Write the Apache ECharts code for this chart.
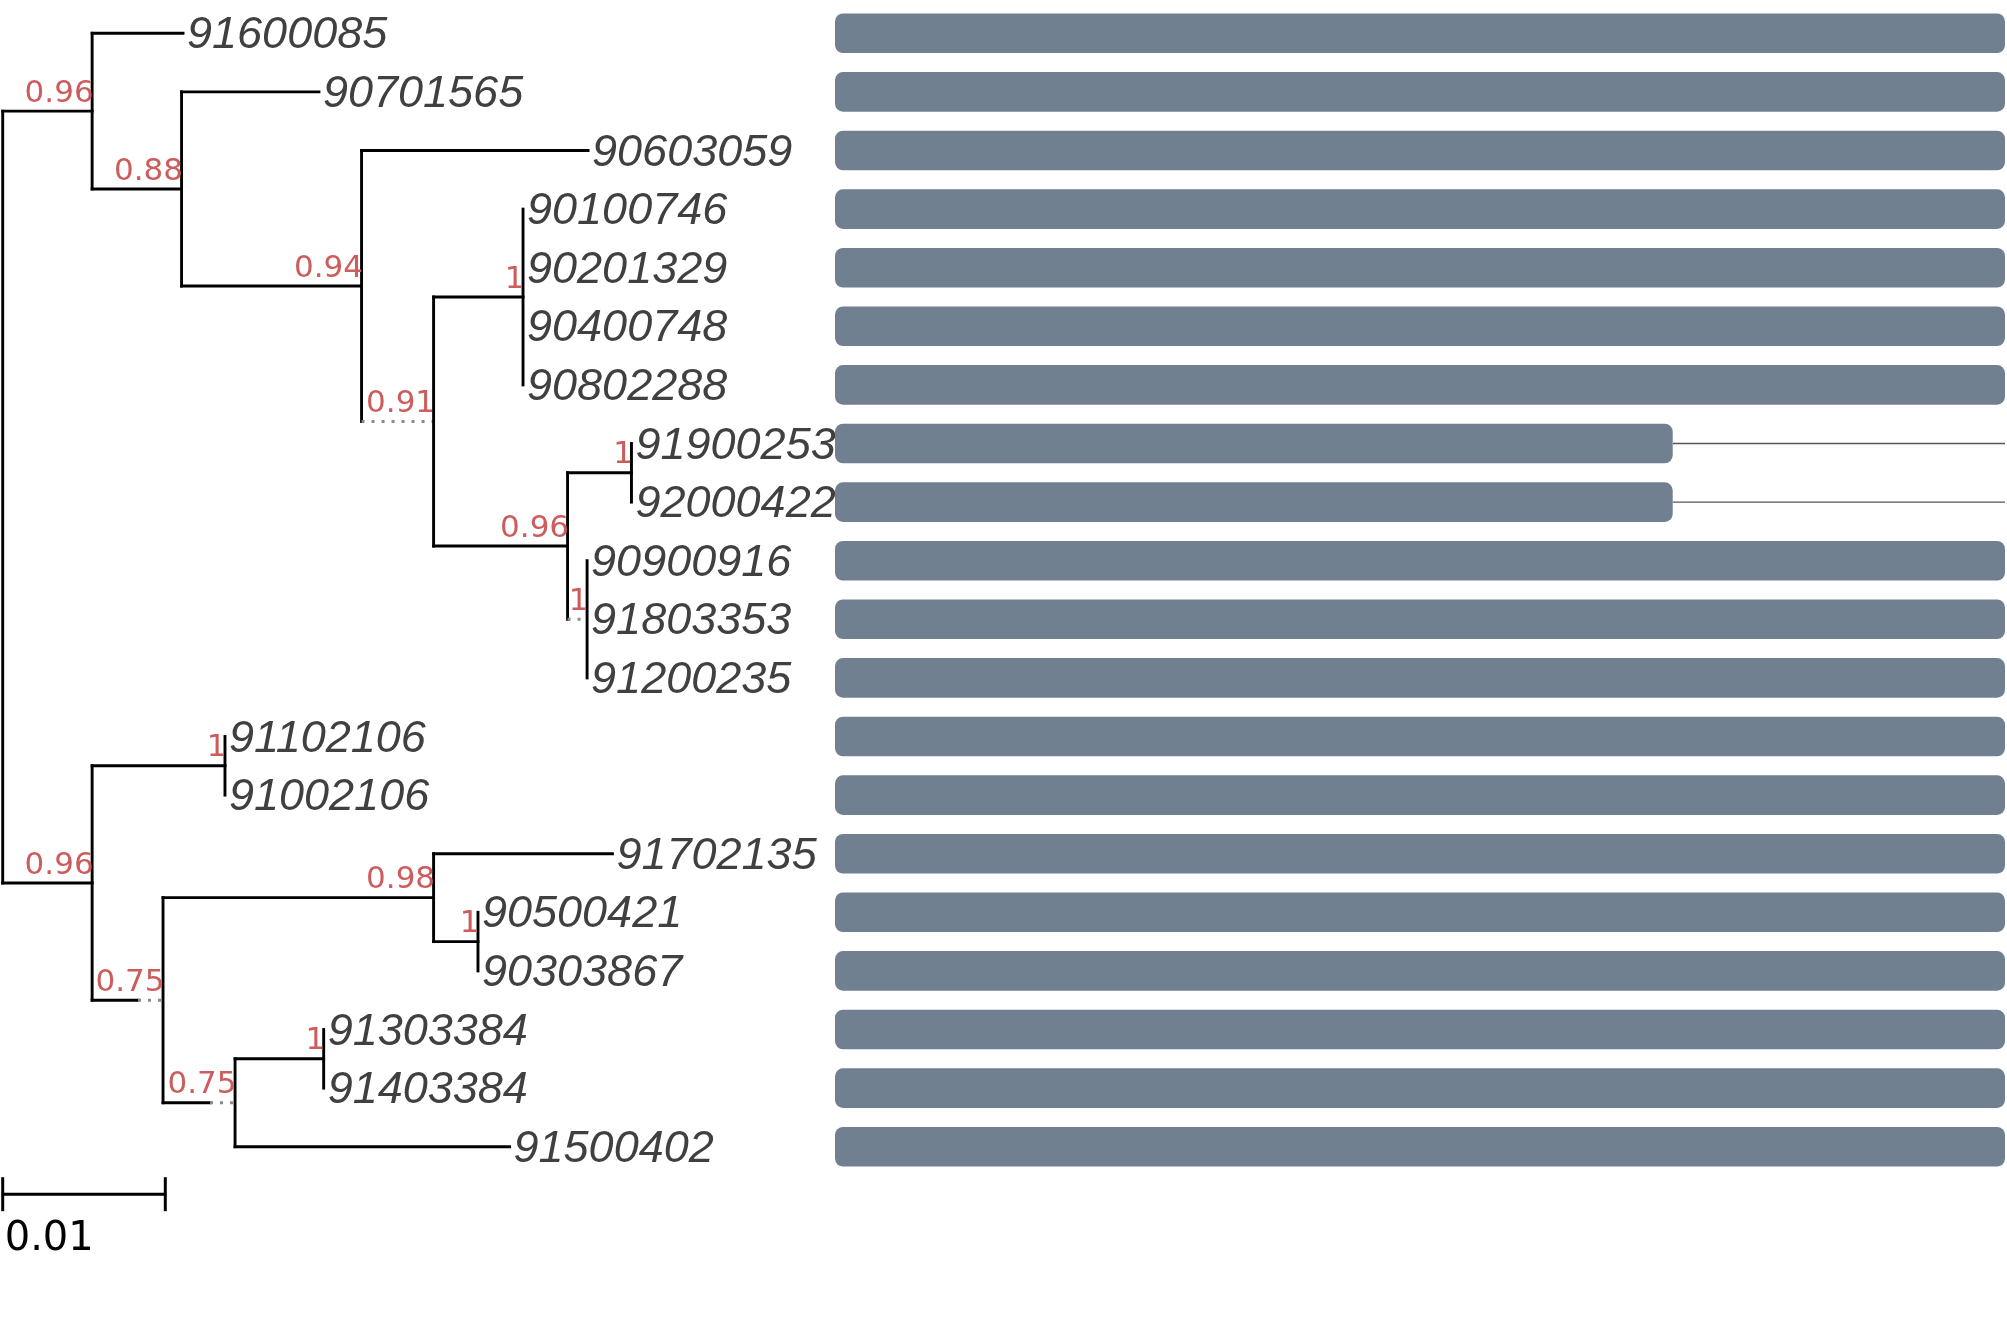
<!DOCTYPE html>
<html><head><meta charset="utf-8">
<script src="https://cdn.jsdelivr.net/npm/echarts@6/dist/echarts.min.js"></script>
<style>html,body{margin:0;padding:0;background:#fff}#c{width:2007px;height:1341px}</style>
</head><body><div id="c"></div>
<script>
// Tips, top to bottom
const tipLabels = ['91600085','90701565','90603059','90100746','90201329','90400748','90802288','91900253','92000422','90900916','91803353','91200235','91102106','91002106','91702135','90500421','90303867','91303384','91403384','91500402'];
// Tip depth (distance from root, substitutions/site)
const tipDepth = [0.01109,0.01945,0.03600,0.03200,0.03200,0.03200,0.03200,0.03867,0.03867,0.03594,0.03594,0.03594,0.01367,0.01367,0.03750,0.02923,0.02923,0.01974,0.01974,0.03117];
const tipParent = ['A','N088','N094','N1a','N1a','N1a','N1a','N1b','N1b','N1c','N1c','N1c','N1d','N1d','N098','N1e','N1e','N1f','N1f','N075b'];
// Internal nodes
const nodeIds     = ['root','A','N088','N094','N091','N1a','N096','N1b','N1c','B','N1d','N075','N098','N1e','N075b','N1f'];
const nodeParent  = [null,'root','A','N088','N094','N091','N091','N096','N096','root','B','B','N075','N098','N075','N075b'];
const nodeDepth   = [0,0.00550,0.01100,0.02207,0.02650,0.03200,0.03474,0.03867,0.03594,0.00550,0.01367,0.00986,0.02650,0.02923,0.01429,0.01974];
const nodeSupport = [null,0.96,0.88,0.94,0.91,1,0.96,1,1,0.96,1,0.75,0.98,1,0.75,1];
// depth at which the branch leading to the node becomes dotted (null = solid)
const nodeDottedFrom = [null,null,null,null,0.02207,null,null,null,0.03474,null,null,0.00832,null,null,0.01275,null];
// Bars (relative length) and full reference length
const barLength = [1,1,1,1,1,1,1,0.716,0.716,1,1,1,1,1,1,1,1,1,1,1];
const fullLength = [1,1,1,1,1,1,1,1,1,1,1,1,1,1,1,1,1,1,1,1];
const scaleBar = [0.01];

// ---- tree layout ----
const idx = {}; nodeIds.forEach((id,k)=>idx[id]=k);
const kids = {}; nodeIds.forEach(id=>kids[id]=[]);
tipLabels.forEach((t,i)=>kids[tipParent[i]].push({tip:i}));
nodeIds.forEach((id,k)=>{ if(nodeParent[k]) kids[nodeParent[k]].push({node:id}); });
const yCache = {};
function nodeY(id){
  if (yCache[id]!==undefined) return yCache[id];
  const ys = kids[id].map(c=> c.tip!==undefined ? c.tip : nodeY(c.node));
  const v = ys.reduce((a,b)=>a+b,0)/ys.length;
  yCache[id]=v; return v;
}
function childYs(id){ return kids[id].map(c=> c.tip!==undefined ? c.tip : nodeY(c.node)); }
const segs = [];
tipLabels.forEach((t,i)=>{
  const pd = nodeDepth[idx[tipParent[i]]];
  if (tipDepth[i] > pd) segs.push([pd,i,tipDepth[i],i,0]);
});
nodeIds.forEach((id,k)=>{
  const y = nodeY(id);
  if (nodeParent[k]) {
    const pd = nodeDepth[idx[nodeParent[k]]], df = nodeDottedFrom[k];
    if (df===null) segs.push([pd,y,nodeDepth[k],y,0]);
    else { if (df>pd) segs.push([pd,y,df,y,0]); segs.push([df,y,nodeDepth[k],y,1]); }
  }
  const ys = childYs(id);
  segs.push([nodeDepth[k],Math.min(...ys),nodeDepth[k],Math.max(...ys),0]);
});
const tipData = tipLabels.map((t,i)=>[tipDepth[i], i, i]);
const supData = [];
nodeIds.forEach((id,k)=>{ if (nodeSupport[k]!==null) supData.push([nodeDepth[k], nodeY(id), k]); });
const lineData = tipLabels.map((t,i)=>[barLength[i], fullLength[i], i]);

const chart = echarts.init(document.getElementById('c'), null, {renderer:'canvas'});
chart.setOption({
  animation:false,
  backgroundColor:'#fff',
  grid:[
    {left:2.7, top:4, width:650.4, height:1172},
    {left:835, top:4, width:1170, height:1172}
  ],
  xAxis:[
    {gridIndex:0, type:'value', min:0, max:0.04, show:false},
    {gridIndex:1, type:'value', min:0, max:1, show:false}
  ],
  yAxis:[
    {gridIndex:0, type:'value', min:-0.5, max:tipLabels.length-0.5, inverse:true, show:false},
    {gridIndex:1, type:'category', data:tipLabels, inverse:true, show:false}
  ],
  series:[
    {
      type:'custom', xAxisIndex:0, yAxisIndex:0, clip:false, silent:true,
      data:segs,
      renderItem:(p,api)=>{
        const a=api.coord([api.value(0),api.value(1)]), b=api.coord([api.value(2),api.value(3)]);
        const dotted = api.value(4)===1;
        return {type:'line', shape:{x1:a[0],y1:a[1],x2:b[0],y2:b[1]},
          style: dotted ? {stroke:'#8a8a8a', lineWidth:3, lineDash:[3,7]} : {stroke:'#000', lineWidth:2.9, lineCap:'square'}};
      }
    },
    {
      type:'custom', xAxisIndex:0, yAxisIndex:0, clip:false, silent:true,
      data:tipData,
      renderItem:(p,api)=>{
        const a=api.coord([api.value(0),api.value(1)]);
        return {type:'text', x:a[0]+4, y:a[1]+2.5, style:{text:tipLabels[api.value(2)], fill:'#404040',
          fontFamily:'Liberation Sans', fontStyle:'italic', fontSize:45, align:'left', verticalAlign:'middle'}};
      }
    },
    {
      type:'custom', xAxisIndex:0, yAxisIndex:0, clip:false, silent:true,
      data:supData,
      renderItem:(p,api)=>{
        const a=api.coord([api.value(0),api.value(1)]);
        return {type:'text', x:a[0]+1.5, y:a[1]-17.5, style:{text:String(nodeSupport[api.value(2)]), fill:'#CD5C5C',
          fontFamily:'DejaVu Sans', fontSize:31, align:'right', verticalAlign:'middle'}};
      }
    },
    {
      type:'custom', xAxisIndex:0, yAxisIndex:0, clip:false, silent:true,
      data:[[0, scaleBar[0]]],
      renderItem:(p,api)=>{
        const y0 = api.coord([0, tipLabels.length-1])[1] + 47.5;
        const a = api.coord([api.value(0), 0])[0], b = api.coord([api.value(1), 0])[0];
        const st = {stroke:'#000', lineWidth:3};
        return {type:'group', children:[
          {type:'line', shape:{x1:a,y1:y0,x2:b,y2:y0}, style:st},
          {type:'line', shape:{x1:a,y1:y0-17,x2:a,y2:y0+17}, style:st},
          {type:'line', shape:{x1:b,y1:y0-17,x2:b,y2:y0+17}, style:st},
          {type:'text', x:a+2, y:y0+45.5, style:{text:String(scaleBar[0]), fill:'#000', fontFamily:'DejaVu Sans', fontSize:40, align:'left', verticalAlign:'middle'}}
        ]};
      }
    },
    {
      type:'custom', xAxisIndex:1, yAxisIndex:1, clip:false, silent:true, z:1,
      data:lineData,
      renderItem:(p,api)=>{
        const s=api.value(0), e=api.value(1);
        if (!(e>s)) return null;
        const a=api.coord([s, api.value(2)]), b=api.coord([e, api.value(2)]);
        return {type:'line', shape:{x1:a[0],y1:a[1],x2:b[0],y2:b[1]}, style:{stroke:'#555', lineWidth:1.4}};
      }
    },
    {
      type:'bar', xAxisIndex:1, yAxisIndex:1, z:2, silent:true,
      data:barLength, barWidth:39.6,
      itemStyle:{color:'#708090', borderRadius:8}
    }
  ]
});
</script></body></html>
